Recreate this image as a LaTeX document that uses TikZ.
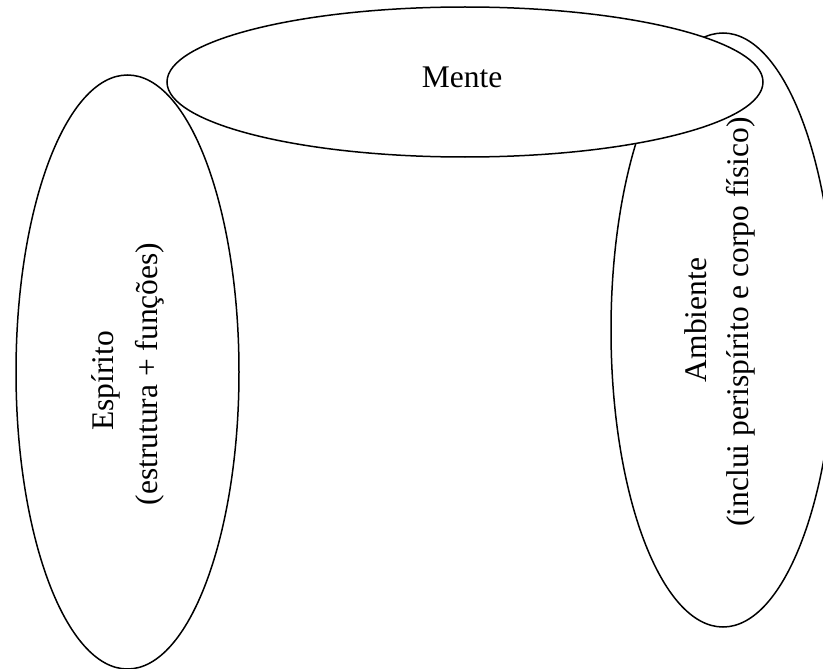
\documentclass[tikz,border=0pt]{standalone}
\usepackage{fontspec}
\setmainfont{Liberation Serif}
\usetikzlibrary{shapes.geometric}
\tikzset{
  bubble/.style={ellipse, draw=black, line width=1.5pt, inner sep=0pt, outer sep=0pt},
  label/.style={font=\fontsize{31.5}{38}\selectfont, inner sep=0pt, anchor=base},
}
\begin{document}
\begin{tikzpicture}[x=1pt,y=-1pt]
\useasboundingbox (0,0) rectangle (823,669);
\clip (0,0) rectangle (823,669);
\fill[white] (0,0) rectangle (823,669);
\node[bubble, minimum width=223pt, minimum height=594pt] (espirito) at (127.5,372) {};
\node[bubble, minimum width=224pt, minimum height=594pt] (ambiente) at (723,330) {};
\node[bubble, fill=white, minimum width=596pt, minimum height=150pt] (mente) at (465,82) {};
\node[label] (tmente) at (462,88) {Mente};
\node[label, rotate=90] (tesp1) at (113,381) {Espírito};
\node[label, rotate=90] (tesp2) at (157,374) {(estrutura + funções)};
\node[label, rotate=90] (tamb1) at (706,320) {Ambiente};
\node[label, rotate=90] (tamb2) at (748,322) {(inclui perispírito e corpo físico)};
\end{tikzpicture}
\end{document}
